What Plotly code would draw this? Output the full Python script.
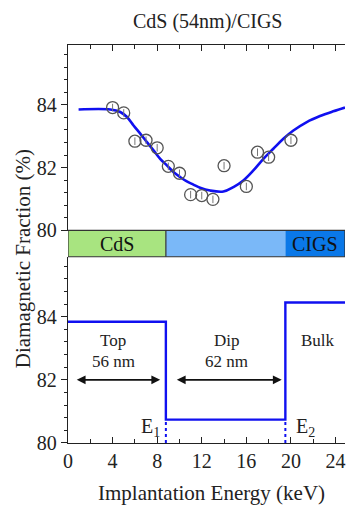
import plotly.graph_objects as go

# ---- data ----
pts_x = [4, 5, 6, 7, 8, 9, 10, 11, 12, 13, 14, 16, 17, 18, 20]
pts_y = [83.91, 83.74, 82.84, 82.87, 82.63, 82.04, 81.82, 81.14, 81.11, 80.99, 82.06, 81.40, 82.49, 82.33, 82.87]
pts_err = [0.12] * len(pts_x)

fit_x = [0.95, 3.79, 4.69, 5.29, 5.88, 6.48, 7.08, 7.67, 8.27, 8.87, 9.46, 10.06, 10.66, 11.25,
         11.85, 12.75, 13.94, 14.84, 15.73, 16.63, 17.53, 18.42, 19.32, 20.22, 21.42, 22.61, 23.80, 24.85]
fit_y = [83.85, 83.85, 83.77, 83.61, 83.34, 83.08, 82.81, 82.55, 82.28, 82.07, 81.86, 81.70, 81.56, 81.46,
         81.36, 81.27, 81.24, 81.38, 81.59, 81.91, 82.28, 82.60, 82.92, 83.18, 83.45, 83.64, 83.79, 83.91]

step_x = [0, 8.78, 19.5, 24.85]
step_y = [83.84, 80.74, 84.45, 84.45]
E1, E2 = 8.78, 19.5

layers = ["CdS", "", "CIGS"]
layer_edges = [0, 8.78, 19.5, 24.85]
layer_colors = ["#a8e480", "#7ab8f8", "#0a78e8"]

XMAX = 24.85
YR = [80, 85.9]
FONT = "Liberation Serif"
D_LOW = [0, 0.468]
D_UP = [0.534, 1]

fig = go.Figure()

# upper panel: fit curve + points
fig.add_trace(go.Scatter(x=fit_x, y=fit_y, mode="lines", line=dict(color="#1010f0", width=2.6, shape="spline"),
                         xaxis="x2", yaxis="y2", showlegend=False, hoverinfo="skip"))
fig.add_trace(go.Scatter(x=pts_x, y=pts_y, mode="markers",
                         marker=dict(symbol="circle-open", size=12, color="#555555", line=dict(width=1.3)),
                         error_y=dict(type="data", array=pts_err, color="#777777", thickness=1, width=0),
                         xaxis="x2", yaxis="y2", showlegend=False))

# lower panel: step profile
fig.add_trace(go.Scatter(x=step_x, y=step_y, mode="lines", line=dict(color="#1010f0", width=2.4, shape="hv"),
                         xaxis="x", yaxis="y", showlegend=False))
for e, lvl in [(E1, step_y[1]), (E2, step_y[1])]:
    fig.add_trace(go.Scatter(x=[e, e], y=[80, lvl], mode="lines",
                             line=dict(color="#1010f0", width=2, dash="dot"),
                             xaxis="x", yaxis="y", showlegend=False))

shapes = []
for i, c in enumerate(layer_colors):
    shapes.append(dict(type="rect", xref="x", yref="paper", x0=layer_edges[i], x1=layer_edges[i + 1],
                       y0=D_LOW[1], y1=D_UP[0], fillcolor=c, line=dict(width=0), layer="above"))
shapes.append(dict(type="rect", xref="x", yref="paper", x0=0, x1=XMAX, y0=D_LOW[1], y1=D_UP[0],
                   fillcolor="rgba(0,0,0,0)", line=dict(color="#333333", width=1.2), layer="above"))
shapes.append(dict(type="line", xref="x", yref="paper", x0=E1, x1=E1, y0=D_LOW[1], y1=D_UP[0],
                   line=dict(color="#333333", width=1.2), layer="above"))

ann = []
for i, name in enumerate(layers):
    if name:
        ann.append(dict(x=(layer_edges[i] + layer_edges[i + 1]) / 2, y=(D_LOW[1] + D_UP[0]) / 2,
                        xref="x", yref="paper", text=name, showarrow=False,
                        xanchor="center", yanchor="middle",
                        font=dict(family=FONT, size=20, color="#111")))
for tx, ty, t in [(4.08, 83.24, "Top"), (4.08, 82.58, "56 nm"), (14.25, 83.24, "Dip"),
                  (14.2, 82.58, "62 nm"), (22.45, 83.24, "Bulk")]:
    ann.append(dict(x=tx, y=ty, xref="x", yref="y", text=t, showarrow=False,
                    xanchor="center", yanchor="middle",
                    font=dict(family=FONT, size=17, color="#222")))
for x0, x1 in [(0.65, 8.27), (9.63, 19.17)]:
    ann.append(dict(x=x1, y=82, ax=x0, ay=82, xref="x", yref="y", axref="x", ayref="y", text="",
                    showarrow=True, arrowhead=2, arrowside="end+start", arrowsize=1.1, arrowwidth=1.6,
                    arrowcolor="#111"))
ann.append(dict(x=7.4, y=80.5, xref="x", yref="y", text="E<sub>1</sub>", showarrow=False,
                xanchor="center", yanchor="middle", font=dict(family=FONT, size=20, color="#222")))
ann.append(dict(x=21.3, y=80.5, xref="x", yref="y", text="E<sub>2</sub>", showarrow=False,
                xanchor="center", yanchor="middle", font=dict(family=FONT, size=20, color="#222")))
ann.append(dict(x=0.502, y=1.058, xref="paper", yref="paper", text="CdS (54nm)/CIGS", showarrow=False,
                xanchor="center", yanchor="middle", font=dict(family=FONT, size=20, color="#222")))
ann.append(dict(x=0.518, y=-0.126, xref="paper", yref="paper", text="Implantation Energy (keV)",
                showarrow=False, xanchor="center", yanchor="middle",
                font=dict(family=FONT, size=21, color="#222")))
ann.append(dict(x=-0.162, y=0.462, xref="paper", yref="paper", text="Diamagnetic Fraction (%)",
                showarrow=False, textangle=-90, xanchor="center", yanchor="middle",
                font=dict(family=FONT, size=21, color="#222")))

axline = dict(showline=True, linecolor="#222", linewidth=1.3, showgrid=False, zeroline=False)
tickfont = dict(family=FONT, size=20, color="#222")

fig.update_layout(
    width=346, height=506, margin=dict(l=68, r=1, t=45, b=63),
    plot_bgcolor="white", paper_bgcolor="white",
    shapes=shapes, annotations=ann,
    xaxis=dict(domain=[0, 1], range=[0, XMAX], anchor="y", tickvals=[0, 4, 8, 12, 16, 20, 24],
               ticks="inside", ticklen=6, tickcolor="#222", tickfont=tickfont,
               minor=dict(tickvals=[2, 6, 10, 14, 18, 22], ticks="inside", ticklen=4, tickcolor="#222"), **axline),
    xaxis2=dict(domain=[0, 1], range=[0, XMAX], anchor="y2", side="top", mirror=True, showticklabels=False,
                tickvals=[0, 4, 8, 12, 16, 20, 24], ticks="inside", ticklen=6, tickcolor="#222",
                minor=dict(tickvals=[2, 6, 10, 14, 18, 22], ticks="inside", ticklen=4, tickcolor="#222"), **axline),
    yaxis=dict(domain=D_LOW, range=YR, anchor="x", tick0=80, dtick=2, ticks="outside", ticklen=6,
               tickcolor="#222", tickfont=tickfont,
               minor=dict(tick0=80, dtick=0.4, ticks="outside", ticklen=3, tickcolor="#222"), **axline),
    yaxis3=dict(range=YR, overlaying="y", anchor="x", side="right", showticklabels=False,
                tick0=80, dtick=2, ticks="inside", ticklen=6, tickcolor="#222",
                minor=dict(tick0=80, dtick=0.4, ticks="inside", ticklen=3, tickcolor="#222"), **axline),
    yaxis2=dict(domain=D_UP, range=YR, anchor="x2", tick0=80, dtick=2, ticks="outside", ticklen=6,
                tickcolor="#222", tickfont=tickfont,
                minor=dict(tick0=80, dtick=0.4, ticks="outside", ticklen=3, tickcolor="#222"), **axline),
    yaxis4=dict(range=YR, overlaying="y2", anchor="x2", side="right", showticklabels=False,
                tick0=80, dtick=2, ticks="inside", ticklen=6, tickcolor="#222",
                minor=dict(tick0=80, dtick=0.4, ticks="inside", ticklen=3, tickcolor="#222"), **axline),
)

fig.write_html("out.html", config={"displayModeBar": False},
               post_script="document.body.style.margin='0';document.body.style.overflow='hidden';")
